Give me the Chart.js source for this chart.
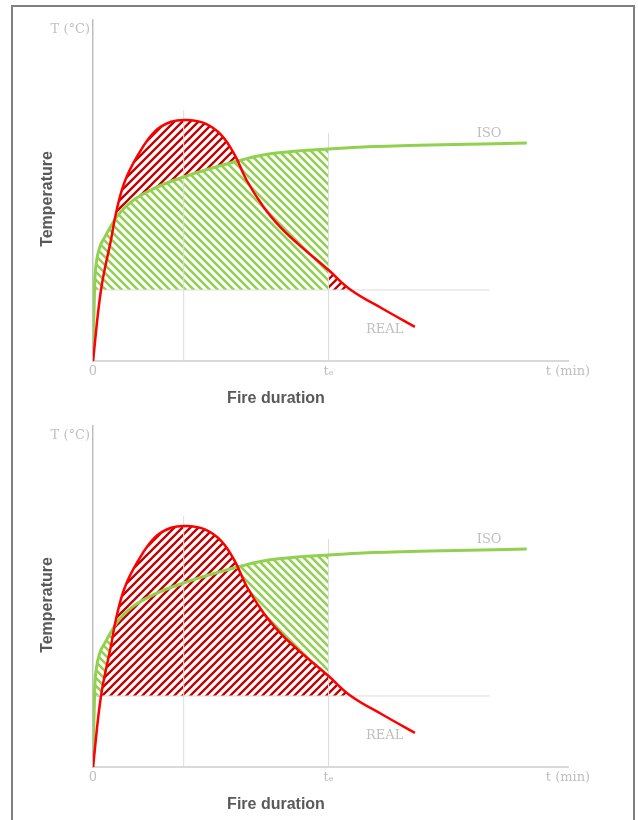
<!DOCTYPE html>
<html>
<head>
<meta charset="utf-8">
<script src="https://cdn.jsdelivr.net/npm/chart.js@4.4.1/dist/chart.umd.min.js"></script>
<style>
  body { margin: 0; background: #fff; }
  #page { position: relative; width: 638px; height: 820px; overflow: hidden; }
  #frame { position: absolute; left: 11px; top: 5px; width: 620px; height: 900px; border: 2px solid #7f7f7f; }
  canvas { position: absolute; left: 0; }
  .ytitle, .xtitle { position: absolute; font: bold 16px "Liberation Sans", Arial, sans-serif; color: #595959; white-space: nowrap; }
  .ytitle { transform: translate(-50%, -50%) rotate(-90deg); }
  .xtitle { transform: translate(-50%, -50%); }
</style>
</head>
<body>
<div id="page">
  <div id="frame"></div>
  <canvas id="chartTop" width="638" height="406" style="top:0"></canvas>
  <canvas id="chartBottom" width="638" height="406" style="top:406px"></canvas>
  <div class="ytitle" style="left:47px; top:199px">Temperature</div>
  <div class="xtitle" style="left:276px; top:398px">Fire duration</div>
  <div class="ytitle" style="left:47px; top:605px">Temperature</div>
  <div class="xtitle" style="left:276px; top:804px">Fire duration</div>
</div>
<script>
// curves (t in min, T in degC, schematic)
const seriesNames = ['ISO', 'REAL'];
const isoTime = [0, 0.15, 0.43, 0.84, 1.7, 3, 6.4, 9.8, 15.7, 23.4, 36.1, 43.3, 52, 60, 68.8, 85.8, 110.5];
const isoTemp = [0, 110, 274, 345, 400, 436, 514, 561, 608, 649, 701, 725, 739, 746, 753, 760, 767];
const realTime = [0, 2.04, 4.66, 5.93, 8.07, 11.46, 15.7, 19.9, 24.2, 28.5, 32.7, 36.1, 39.1, 43.4, 47.6, 52, 60, 65.7, 73.9, 82];
const realTemp = [0, 250, 432, 525, 631, 725, 807, 842, 848, 836, 795, 725, 637, 543, 473, 415, 320, 250, 183, 120];

const exposureTime = 60;   // t_e
const baseTemp = 250;      // lower limit of the hatched areas
const peakTime = 23.1;
const guideTops = [883, 802];
const baseLineEnd = 101;

const xTicks = [0, 60, 121];
const xTickLabels = ['0', 'tₑ', 't (min)'];
const yTicks = [1165];
const yTickLabels = ['T (°C)'];

function hatch(color, rising, width) {
  const tile = document.createElement('canvas');
  tile.width = 8; tile.height = 8;
  const c = tile.getContext('2d');
  c.strokeStyle = color;
  c.lineWidth = width;
  c.beginPath();
  if (rising) {
    c.moveTo(0, 8); c.lineTo(8, 0);
    c.moveTo(-2, 2); c.lineTo(2, -2);
    c.moveTo(6, 10); c.lineTo(10, 6);
  } else {
    c.moveTo(0, 0); c.lineTo(8, 8);
    c.moveTo(-2, 6); c.lineTo(2, 10);
    c.moveTo(6, -2); c.lineTo(10, 2);
  }
  c.stroke();
  return c.createPattern(tile, 'repeat');
}
const redHatch = hatch('#c00000', true, 2.3);
const greenHatch = hatch('#92d050', false, 2.6);
const none = 'rgba(0,0,0,0)';

const pts = (xs, ys) => xs.map((x, i) => ({x: x, y: ys[i]}));
const isoPts = pts(isoTime, isoTemp);
const realPts = pts(realTime, realTemp);
const isoToTe = isoPts.filter(p => p.x <= exposureTime);
const realFromTe = realPts.filter(p => p.x >= exposureTime);
const realFloorToTe = realPts.filter(p => p.x <= exposureTime).map(p => ({x: p.x, y: Math.max(p.y, baseTemp)}));

// ISO uses monotone (very steep start), REAL a plain spline
const isoCurve = {cubicInterpolationMode: 'monotone'};
const realCurve = {tension: 0.4};

const curve = (label, data, shape, color, width, fill) => Object.assign({
  label: label, data: data, borderColor: color, borderWidth: width, fill: fill || false
}, shape);
const area = (data, shape, fill) => Object.assign({data: data, borderWidth: 0, fill: fill}, shape);
const guide = (data) => ({data: data, borderColor: '#dcdcdc', borderWidth: 1, fill: false});
const guides = () => [
  guide([{x: peakTime, y: 0}, {x: peakTime, y: guideTops[0]}]),
  guide([{x: exposureTime, y: 0}, {x: exposureTime, y: guideTops[1]}]),
  guide([{x: 0, y: baseTemp}, {x: baseLineEnd, y: baseTemp}])
];

const curveLabels = {
  id: 'curveLabels',
  afterDatasetsDraw(chart) {
    const {ctx, scales: {x, y}} = chart;
    ctx.save();
    ctx.font = '13px "DejaVu Serif", serif';
    ctx.fillStyle = '#bfbfbf';
    ctx.textAlign = 'center';
    ctx.textBaseline = 'middle';
    ctx.fillText(seriesNames[0], x.getPixelForValue(100.9), y.getPixelForValue(801));
    ctx.fillText(seriesNames[1], x.getPixelForValue(74.3), y.getPixelForValue(112));
    ctx.restore();
  }
};

const tickFont = {family: 'DejaVu Serif', size: 13};

function makeChart(id, datasets) {
  return new Chart(document.getElementById(id), {
    type: 'line',
    data: {datasets: datasets},
    plugins: [curveLabels],
    options: {
      responsive: false,
      animation: false,
      events: [],
      layout: {padding: {top: 20, right: 70, left: 0, bottom: 0}},
      elements: {point: {radius: 0, hoverRadius: 0}},
      plugins: {
        legend: {display: false},
        tooltip: {enabled: false},
        filler: {drawTime: 'beforeDatasetsDraw'}
      },
      scales: {
        x: {
          type: 'linear', min: 0, max: 121,
          grid: {display: false, drawTicks: false},
          border: {color: '#d9d9d9', width: 2},
          afterBuildTicks: a => { a.ticks = xTicks.map(v => ({value: v})); },
          afterFit: a => { a.height = 45; },
          ticks: {callback: (v, i) => xTickLabels[i], color: '#bfbfbf', font: tickFont, padding: 3, maxRotation: 0, autoSkip: false}
        },
        y: {
          min: 0, max: 1200,
          grid: {display: false, drawTicks: false},
          border: {color: '#bfbfbf', width: 1.5},
          afterBuildTicks: a => { a.ticks = yTicks.map(v => ({value: v})); },
          afterFit: a => { a.width = 93; },
          ticks: {callback: (v, i) => yTickLabels[i], color: '#bfbfbf', font: tickFont, padding: 3}
        }
      }
    }
  });
}

// top: ISO area up to t_e in green, REAL excess in red
makeChart('chartTop', [
  curve(seriesNames[1], realPts, realCurve, '#ff0000', 2.5, {target: 1, above: redHatch, below: none}),
  curve(seriesNames[0], isoPts, isoCurve, '#92d050', 3),
  area(isoToTe, isoCurve, {target: {value: baseTemp}, above: greenHatch, below: none}),
  area(realFromTe, realCurve, {target: {value: baseTemp}, above: redHatch, below: none})
].concat(guides()));

// bottom: REAL area in red, ISO excess up to t_e in green
makeChart('chartBottom', [
  curve(seriesNames[1], realPts, realCurve, '#ff0000', 2.5, {target: {value: baseTemp}, above: redHatch, below: none}),
  curve(seriesNames[0], isoPts, isoCurve, '#92d050', 3),
  area(isoToTe, isoCurve, {target: 3, above: greenHatch, below: none}),
  area(realFloorToTe, realCurve, false)
].concat(guides()));
</script>
</body>
</html>
